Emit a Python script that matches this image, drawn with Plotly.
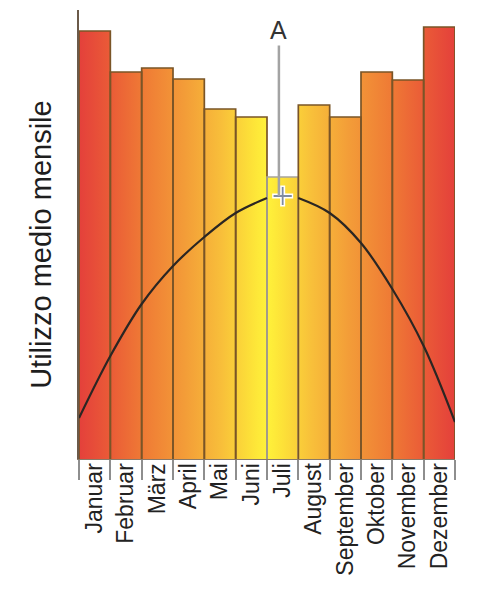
import plotly.graph_objects as go

months = ["Januar", "Februar", "März", "April", "Mai", "Juni", "Juli",
          "August", "September", "Oktober", "November", "Dezember"]
usage = [428, 387, 391, 380, 350, 342, 282, 354, 342, 387, 379, 432]

curve_x = [0, 1, 2, 3, 4, 5, 6, None, 7, 8, 9, 10, 11, 12]
curve_y = [41, 103, 155, 193, 222, 246, 261, None, 261, 246, 216, 170, 113, 37]

peak_x = [6.5]
peak_y = [263]
marker_label = "A"
y_title = "Utilizzo medio mensile"

n = len(months)
centers = [i + 0.5 for i in range(n)]
edges = list(range(n + 1))

gradient = [[0.0, "#e4403b"], [0.08, "#ea5a37"], [0.17, "#ef7a35"],
            [0.28, "#f39c38"], [0.38, "#f8bf3a"], [0.46, "#fde238"],
            [0.5, "#fff23a"], [0.54, "#fde238"], [0.62, "#f8bf3a"],
            [0.72, "#f39c38"], [0.83, "#ef7a35"], [0.92, "#ea5a37"],
            [1.0, "#e4403b"]]

fig = go.Figure()

# gradient fill of the bars (step outline built from the values)
fig.add_trace(go.Scatter(
    x=edges, y=usage + [usage[-1]], mode="lines", line_shape="hv",
    line=dict(width=0, color="rgba(0,0,0,0)"), fill="tozeroy",
    fillgradient=dict(type="horizontal", colorscale=gradient),
    hoverinfo="skip", showlegend=False))

# bar outlines, one rectangle per month built from the values
for i, v in enumerate(usage):
    col = "#a8a49a" if i == 6 else "#7a5527"
    fig.add_trace(go.Scatter(
        x=[i, i, i + 1, i + 1], y=[0, v, v, 0], mode="lines",
        line=dict(color=col, width=1.7), showlegend=False, hoverinfo="skip"))

# curve
fig.add_trace(go.Scatter(
    x=curve_x, y=curve_y, mode="lines",
    line=dict(color="#2b2623", width=2.2, shape="spline", smoothing=1.0),
    connectgaps=False, showlegend=False, hoverinfo="skip"))

# cross marker
fig.add_trace(go.Scatter(
    x=peak_x, y=peak_y, mode="markers",
    marker=dict(symbol="cross-thin", size=15, line=dict(color="white", width=5)),
    showlegend=False, hoverinfo="skip"))
fig.add_trace(go.Scatter(
    x=peak_x, y=peak_y, mode="markers",
    marker=dict(symbol="cross-thin", size=13, line=dict(color="#7f8ba0", width=1.8)),
    showlegend=False, hoverinfo="skip"))

fig.add_annotation(
    x=peak_x[0] - 0.12, y=peak_y[0], xref="x", yref="y", text=marker_label,
    showarrow=True, arrowhead=0, arrowwidth=2.5, arrowcolor="#a3a3a3",
    ax=0, ay=-166, font=dict(family="Liberation Sans, Arial", size=25, color="#333333"))

fig.add_annotation(
    text=y_title, textangle=-90, xref="paper", yref="paper", x=0, y=0.477,
    xshift=-38, showarrow=False, xanchor="center", yanchor="middle",
    font=dict(family="Liberation Sans, Arial", size=29, color="#1e1e1e"))

fig.update_layout(
    width=482, height=591, margin=dict(l=71, r=35, t=2, b=140),
    plot_bgcolor="white", paper_bgcolor="white",
    xaxis=dict(range=[0, n], tickvals=centers, ticktext=months, tickangle=-90,
               ticks="", showgrid=False, zeroline=False, showline=True,
               linecolor="#8a7a68", linewidth=1,
               tickfont=dict(family="Liberation Sans, Arial", size=23, color="#222222"),
               ticklabelstandoff=-6,
               minor=dict(tickvals=edges, ticks="outside", ticklen=20,
                          tickcolor="#8e8e8e", tickwidth=1.5, showgrid=False)),
    yaxis=dict(range=[0, 449], showticklabels=False, ticks="", showgrid=False,
               zeroline=False, showline=True, linecolor="#6b5a4a", linewidth=1.5),
)

fig.write_html("out.html")
